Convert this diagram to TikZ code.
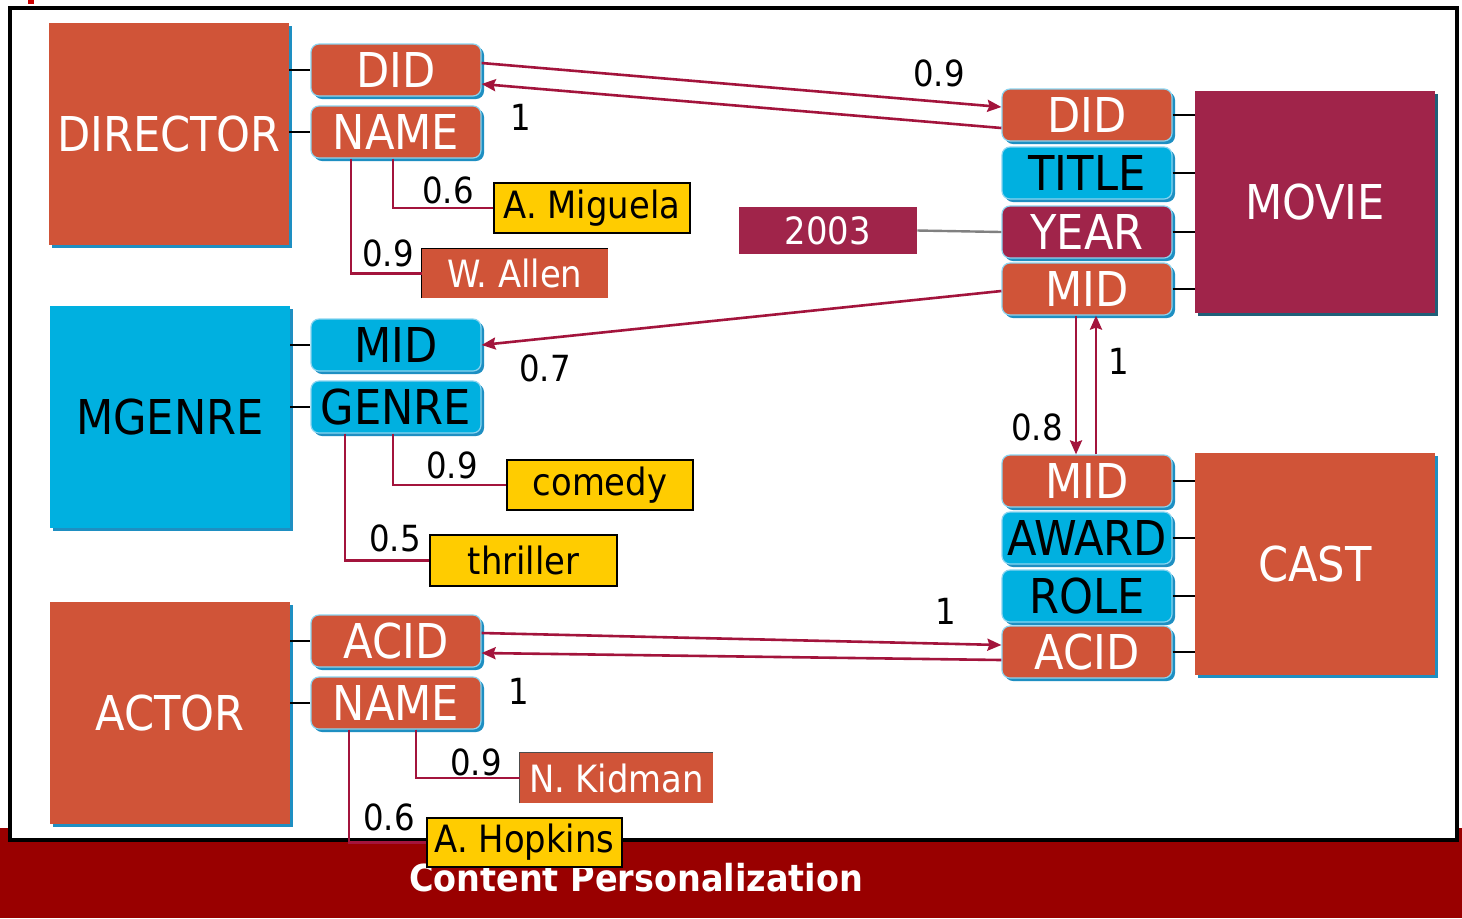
\documentclass[tikz,border=0pt]{standalone}
\usepackage{fontspec}
\setmainfont{DejaVu Sans Condensed}
\usetikzlibrary{arrows.meta,shadows}

\definecolor{brick}{HTML}{D05438}
\definecolor{sky}{HTML}{00B0E0}
\definecolor{wine}{HTML}{A0244A}
\definecolor{gold}{HTML}{FFCC00}
\definecolor{linkred}{HTML}{A3143C}
\definecolor{band}{HTML}{990000}
\definecolor{tick}{HTML}{CC0000}
\definecolor{shadeblue}{HTML}{1E8FC2}
\definecolor{edgeblue}{HTML}{8AD4F0}
\definecolor{shadeteal}{HTML}{1F5F78}

\begin{document}
\begin{tikzpicture}[x=0.5pt,y=-0.5pt,
  entbox/.style={rectangle, inner sep=0pt, minimum width=120pt, minimum height=111pt,
    font=\fontsize{24}{28}\selectfont,
    drop shadow={shadow xshift=1.6pt, shadow yshift=-1.6pt, fill=shadeblue, opacity=1}},
  tealshade/.style={drop shadow={shadow xshift=1.6pt, shadow yshift=-1.6pt, fill=shadeteal, opacity=1}},
  attbox/.style={rectangle, rounded corners=4pt, inner sep=0pt, minimum width=85pt, minimum height=26pt,
    font=\fontsize{24}{28}\selectfont, draw=edgeblue, line width=0.6pt,
    drop shadow={shadow xshift=1.5pt, shadow yshift=-1.5pt, fill=shadeblue, opacity=1}},
  hot/.style={fill=brick, text=white},
  cool/.style={fill=sky, text=black},
  deep/.style={fill=wine, text=white},
  valbox/.style={rectangle, inner sep=0pt, font=\fontsize{18.8}{22}\selectfont},
  goldbox/.style={valbox, fill=gold, draw=black, line width=1.1pt, text=black},
  brickbox/.style={valbox, fill=brick, text=white},
  numlbl/.style={font=\fontsize{18}{22}\selectfont, text=black, inner sep=0pt},
  valline/.style={draw=linkred, line width=1.3pt},
  arrline/.style={draw=linkred, line width=1.3pt, -{Stealth[length=7pt,width=6pt,inset=1pt]}},
  tieline/.style={draw=black, line width=1.4pt}
]
\useasboundingbox (0,0) rectangle (1462,918);

% footer band and caption
\fill[band] (0,828) rectangle (1462,918);
\fill[tick] (28,0) rectangle (34,4);
\node[font=\bfseries\fontsize{18.6}{22}\selectfont, text=white] (caption) at (636,878) {Content Personalization};

% slide frame
\draw[line width=2pt, fill=white] (10,8) rectangle (1457,840);

% entities
\node[entbox, hot] (director) at (169,134) {DIRECTOR};
\node[entbox, cool] (mgenre) at (170,417) {MGENRE};
\node[entbox, hot] (actor) at (170,713) {ACTOR};
\node[entbox, deep, tealshade] (movie) at (1315,202) {MOVIE};
\node[entbox, hot] (cast) at (1315,564) {CAST};

% attributes, left column
\node[attbox, hot] (ldid) at (396,70) {DID};
\node[attbox, hot] (lname) at (396,132) {NAME};
\node[attbox, cool] (gmid) at (396,345) {MID};
\node[attbox, cool] (genre) at (396,407) {GENRE};
\node[attbox, hot] (lacid) at (396,641) {ACID};
\node[attbox, hot] (aname) at (396,703) {NAME};

% attributes, right column
\node[attbox, hot] (rdid) at (1087,115) {DID};
\node[attbox, cool] (title) at (1087,173) {TITLE};
\node[attbox, deep] (year) at (1087,232) {YEAR};
\node[attbox, hot] (mmid) at (1087,289) {MID};
\node[attbox, hot] (cmid) at (1087,481) {MID};
\node[attbox, cool] (award) at (1087,538) {AWARD};
\node[attbox, cool] (role) at (1087,596) {ROLE};
\node[attbox, hot] (cacid) at (1087,652) {ACID};

% entity-to-attribute ties
\foreach \a/\e in {ldid/director, lname/director, gmid/mgenre, genre/mgenre, lacid/actor, aname/actor}
  \draw[tieline] (\e.east |- \a) -- (\a.west);
\foreach \a/\e in {rdid/movie, title/movie, year/movie, mmid/movie, cmid/cast, award/cast, role/cast, cacid/cast}
  \draw[tieline] (\a.east) -- (\a -| \e.west);

% values
\node[goldbox, minimum width=98pt, minimum height=25pt] (miguela) at (592,208) {A. Miguela};
\node[brickbox, minimum width=93pt, minimum height=24.5pt] (wallen) at (515,273.5) {W. Allen};
\node[goldbox, minimum width=93pt, minimum height=25pt] (comedy) at (600,485) {comedy};
\node[goldbox, minimum width=93.5pt, minimum height=25.5pt] (thriller) at (523.5,560.5) {thriller};
\node[brickbox, minimum width=96.5pt, minimum height=25pt] (kidman) at (616.5,778) {N. Kidman};
\node[valbox, fill=wine, text=white, minimum width=89pt, minimum height=23.5pt] (y2003) at (828,230.5) {2003};

\draw[line width=0.8pt] (wallen.south west) -- (wallen.north west) -- (wallen.north east);
\draw[line width=0.8pt, black!70] (kidman.south west) -- (kidman.north west) -- (kidman.north east);

% value links
\draw[valline] ([xshift=-1.5pt]lname.south) |- (miguela.west);
\draw[valline] ([xshift=-22.5pt]lname.south) |- (wallen.west);
\draw[valline] ([xshift=-1.5pt]genre.south) |- (comedy.west);
\draw[valline] ([xshift=-25.5pt]genre.south) |- (thriller.west);
\draw[valline] ([xshift=10pt]aname.south) |- (kidman.west);
\node[goldbox, minimum width=97.5pt, minimum height=24.5pt] (hopkins) at (524.5,842.5) {A. Hopkins};
\draw[valline] ([xshift=-23.5pt]aname.south) |- (hopkins.west);
\draw[draw=gray, line width=1.2pt] (y2003.east) -- (year.west);

% key references
\draw[arrline] ([yshift=3.5pt]ldid.east) -- ([yshift=4pt]rdid.west);
\draw[arrline] ([yshift=-6.5pt]rdid.west) -- ([yshift=-7pt]ldid.east);
\draw[arrline] ([yshift=-1pt]mmid.west) -- (gmid.east);
\draw[arrline] ([xshift=-5.5pt]mmid.south) -- ([xshift=-5.5pt]cmid.north);
\draw[arrline] ([xshift=4.5pt]cmid.north) -- ([xshift=4.5pt]mmid.south);
\draw[arrline] ([yshift=4pt]lacid.east) -- ([yshift=3.5pt]cacid.west);
\draw[arrline] ([yshift=-4pt]cacid.west) -- ([yshift=-6pt]lacid.east);

% weights
\node[numlbl] (w1) at (939,73) {0.9};
\node[numlbl] (w2) at (521,117) {1};
\node[numlbl] (w3) at (545,368) {0.7};
\node[numlbl] (w4) at (1037,427) {0.8};
\node[numlbl] (w5) at (1119,361) {1};
\node[numlbl] (w6) at (946,611) {1};
\node[numlbl] (w7) at (519,691) {1};
\node[numlbl] (w8) at (448,190) {0.6};
\node[numlbl] (w9) at (388,253) {0.9};
\node[numlbl] (w10) at (452,465) {0.9};
\node[numlbl] (w11) at (395,538) {0.5};
\node[numlbl] (w12) at (476,762) {0.9};
\node[numlbl] (w13) at (389,817) {0.6};
\end{tikzpicture}
\end{document}
